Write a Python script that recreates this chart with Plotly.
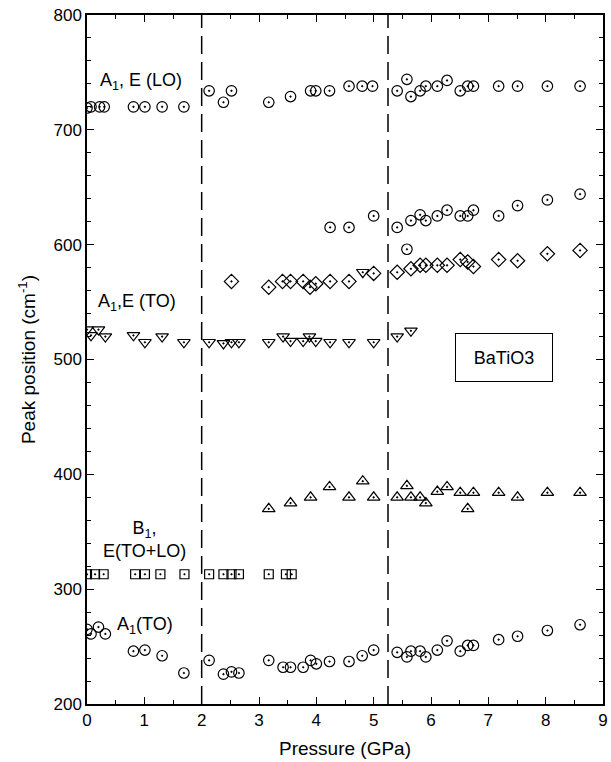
import plotly.graph_objects as go

# ---- data (Pressure GPa, Peak position cm^-1) ----
p_lo = [0.0, 0.07, 0.22, 0.30, 0.81, 1.01, 1.31, 1.69, 2.13, 2.38, 2.52, 3.17, 3.55, 3.90, 3.99,
        4.23, 4.57, 4.80, 4.98, 5.41, 5.58, 5.65, 5.81, 5.91, 6.11, 6.28, 6.51, 6.64, 6.74,
        7.18, 7.51, 8.03, 8.60]
v_lo = [719, 720, 720, 720, 720, 720, 720, 720, 734, 724, 734, 724, 729, 734, 734,
        734, 738, 738, 738, 734, 744, 729, 734, 738, 738, 743, 734, 738, 738,
        738, 738, 738, 738]

p_mid = [4.24, 4.57, 5.00, 5.41, 5.58, 5.65, 5.81, 5.91, 6.11, 6.28, 6.51, 6.64, 6.74, 7.18, 7.51, 8.03, 8.60]
v_mid = [615, 615, 625, 615, 596, 621, 626, 621, 625, 630, 625, 625, 630, 625, 634, 639, 644]

p_dia = [2.52, 3.17, 3.41, 3.55, 3.77, 3.89, 3.99, 4.24, 4.57, 5.00, 5.41, 5.65, 5.81, 5.91,
         6.11, 6.28, 6.51, 6.64, 6.74, 7.18, 7.51, 8.03, 8.60]
v_dia = [568, 563, 568, 568, 568, 563, 566, 568, 568, 575, 576, 579, 582, 582,
         582, 582, 587, 585, 581, 587, 586, 592, 595]

p_to = [0.0, 0.07, 0.20, 0.32, 0.81, 1.01, 1.31, 1.69, 2.13, 2.38, 2.52, 2.65, 3.17, 3.42,
        3.55, 3.77, 3.88, 3.99, 4.24, 4.57, 4.81, 5.00, 5.41, 5.65]
v_to = [526, 521, 526, 520, 521, 515, 520, 515, 515, 514, 515, 515, 515, 520,
        516, 516, 520, 516, 515, 515, 576, 515, 520, 525]

p_tri = [3.17, 3.55, 3.90, 4.23, 4.57, 4.81, 5.00, 5.41, 5.58, 5.65, 5.81, 5.91, 6.11, 6.28,
         6.51, 6.64, 6.74, 7.18, 7.51, 8.03, 8.60]
v_tri = [370, 375, 380, 389, 380, 394, 380, 380, 390, 380, 380, 375, 385, 389,
         384, 370, 384, 384, 380, 384, 384]

p_b1 = [0.0, 0.14, 0.29, 0.84, 1.01, 1.28, 1.70, 2.13, 2.38, 2.52, 2.65, 3.17, 3.47, 3.57]
v_b1 = [313] * len(p_b1)

p_a1 = [0.0, 0.07, 0.20, 0.32, 0.81, 1.01, 1.31, 1.69, 2.13, 2.38, 2.52, 2.65, 3.17, 3.42,
        3.55, 3.77, 3.90, 4.00, 4.23, 4.57, 4.80, 5.00, 5.41, 5.58, 5.65, 5.81, 5.91, 6.11,
        6.28, 6.51, 6.64, 6.74, 7.18, 7.51, 8.03, 8.60]
v_a1 = [265, 261, 267, 261, 246, 247, 242, 227, 238, 226, 228, 227, 238, 232,
        232, 232, 238, 235, 237, 237, 242, 247, 245, 241, 246, 246, 241, 247,
        255, 246, 251, 251, 256, 259, 264, 269]

transitions = [2.0, 5.25]

labels = [
    dict(text="A<sub>1</sub>, E (LO)", x=0.2, y=742, xanchor="left"),
    dict(text="A<sub>1</sub>,E (TO)", x=0.15, y=550, xanchor="left"),
    dict(text="B<sub>1</sub>,<br>E(TO+LO)", x=1.0, y=343, xanchor="center"),
    dict(text="A<sub>1</sub>(TO)", x=0.49, y=268, xanchor="left"),
]

FONT = "Liberation Sans, Arial, sans-serif"

fig = go.Figure()

series = [
    (p_lo, v_lo, "circle-open-dot", 10.5),
    (p_mid, v_mid, "circle-open-dot", 10.5),
    (p_dia, v_dia, "diamond-open-dot", 11),
    (p_to, v_to, "triangle-down-open-dot", 11),
    (p_tri, v_tri, "triangle-up-open-dot", 11),
    (p_b1, v_b1, "square-open-dot", 9),
    (p_a1, v_a1, "circle-open-dot", 10.5),
]
for px, py, sym, sz in series:
    fig.add_trace(go.Scatter(
        x=px, y=py, mode="markers",
        marker=dict(symbol=sym, size=sz, color="black", line=dict(color="black", width=1.2)),
        showlegend=False, hoverinfo="skip",
    ))

for xt in transitions:
    fig.add_shape(type="line", x0=xt, x1=xt, y0=0, y1=1, xref="x", yref="paper",
                  line=dict(color="black", width=1.5, dash="18px,8px"))

for lb in labels:
    fig.add_annotation(text=lb["text"], x=lb["x"], y=lb["y"], xref="x", yref="y",
                       xanchor=lb["xanchor"], yanchor="middle", showarrow=False,
                       font=dict(family=FONT, size=18, color="black"))

fig.add_annotation(text="BaTiO3", x=7.27, y=502, xref="x", yref="y", showarrow=False,
                   font=dict(family=FONT, size=18, color="black"),
                   bordercolor="black", borderwidth=1, borderpad=9,
                   bgcolor="white", width=78, height=29)

axis_common = dict(
    showline=True, linecolor="black", linewidth=1.5, mirror="allticks",
    ticks="inside", ticklen=7, tickwidth=1.3, tickcolor="black",
    showgrid=False, zeroline=False, automargin=False,
    tickfont=dict(family=FONT, size=17, color="black"),
)

fig.update_xaxes(range=[0, 9], dtick=1, tick0=0,
                 minor=dict(dtick=0.5, ticks="inside", ticklen=4, tickcolor="black", showgrid=False),
                 title=dict(text="Pressure (GPa)", font=dict(family=FONT, size=19, color="black"), standoff=13),
                 **axis_common)
fig.update_yaxes(range=[200, 800], dtick=100, tick0=200,
                 minor=dict(dtick=20, ticks="inside", ticklen=4, tickcolor="black", showgrid=False),
                 title=dict(text="Peak position (cm<sup>-1</sup>)", font=dict(family=FONT, size=19, color="black"), standoff=13),
                 **axis_common)

fig.update_layout(
    width=611, height=762,
    margin=dict(l=87, r=8, t=15, b=58),
    plot_bgcolor="white", paper_bgcolor="white",
    font=dict(family=FONT, color="black"),
)

fig.write_html("out.html", config={"displayModeBar": False},
               post_script="document.body.style.margin='0';document.body.style.overflow='hidden';")
